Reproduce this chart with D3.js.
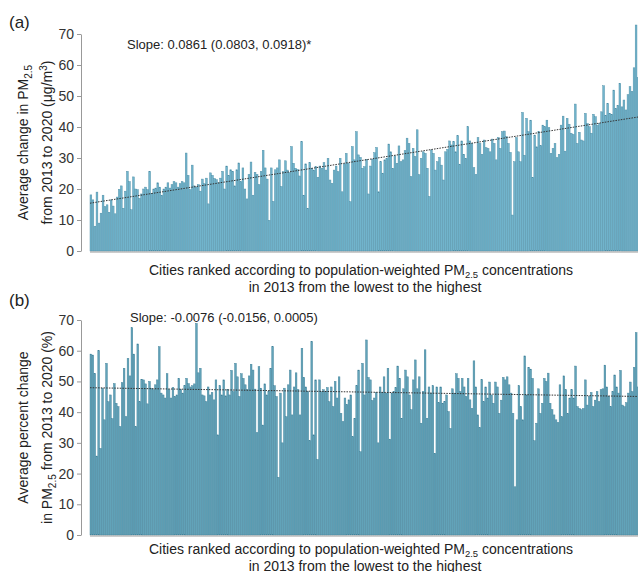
<!DOCTYPE html>
<html>
<head>
<meta charset="utf-8">
<script src="https://cdn.jsdelivr.net/npm/d3@7"></script>
<style>
  body { margin: 0; background: #fff; }
  svg { display: block; font-family: "Liberation Sans", Arial, sans-serif; }
</style>
</head>
<body>
<svg id="chart" width="638" height="572"></svg>
<script>
// cities ranked by 2013 population-weighted PM2.5 (lowest -> highest)
const absChange = [
  18.1, 16.5, 8, 19, 9, 12.2, 18, 14.3, 14.9, 12.5,
  16.5, 14.5, 12, 17.4, 19.9, 21, 13.8, 19.3, 25.7, 22.4,
  13.3, 23.9, 20, 19.8, 17, 18.4, 20, 20.6, 19.8, 25.7,
  18.6, 20, 20.3, 22, 20.6, 18, 20, 20.6, 22, 20.3,
  21.4, 22.4, 22, 20.6, 21.7, 22.4, 22, 31.6, 24.4, 19.8,
  27.7, 21, 20.6, 21.4, 19.3, 23.2, 21.7, 23.5, 15.2, 25.2,
  24.4, 23.4, 23, 22, 23.5, 25.7, 20, 27.4, 24.4, 26.2,
  25.7, 21, 26.2, 28.4, 22.4, 26.8, 20, 16.8, 24.7, 28.7,
  18, 25.4, 24.7, 21.4, 25.7, 32.5, 26.8, 23.2, 9.9, 26.8,
  16, 26.2, 26.8,
  29.4, 20.8, 25.6, 29.1, 26.1, 25.3, 33.7, 28.3, 26.7, 26.3,
  24.2, 35.3, 18, 28.1, 13.8, 28.5, 26.7, 26.1, 27.2, 23.8,
  27.4, 26.7, 28.5, 26.1, 29.9, 22.9, 21.8, 26.1, 27.4, 25.6,
  29.9, 19.1, 28.1, 31.5, 28.3, 15.9, 33.7, 29.4, 38.5, 31,
  30.2, 26.7, 27.2, 29.6, 18.4, 27.4, 29.6, 31.7, 33.4, 19.1,
  28.8, 25.1, 29.4, 29.9, 34.5, 32, 26.7, 30.7, 28.3, 33.9,
  28.8, 29.4, 32.4, 36.4, 34.7, 24, 33.1, 30.5, 39.1, 24.6,
  29.9, 32, 31.5, 26.7, 17.6, 32.6, 31.5, 26.1, 28.8, 30.2,
  27.7, 22.9, 32, 32.8,
  35.5, 34.2, 35.3, 32, 37.2, 28, 35.5, 31.2, 29.9, 40.1,
  35.5, 34.7, 26.9, 24.7, 36.6, 34.7, 31.2, 35.8, 33.3, 33.1,
  32, 36.1, 34.7, 29.4, 36.6, 33.1, 38.5, 38.7, 36.9, 34.7,
  31.8, 11.6, 28.8, 36.6, 32, 28.8, 44.7, 30.9, 42.8, 38.5,
  42.2, 23.7, 37.4, 33.6, 38.5, 34, 40.6, 40.1, 42.2, 39.8,
  31.5, 33.1, 34.7, 30.1, 31.2, 40.6, 43.5, 32.2, 42.8, 40.9,
  38, 37.6, 47.4, 34.7, 38.3, 35.8, 35.5, 44.4, 41.1, 40.1,
  38, 44.1, 43.3, 40.6, 41.1, 44.9, 53.3, 43.8, 47.6, 44.4,
  44.1, 51.9, 46, 47, 54.1, 46.5, 48.7, 45.5, 50.4, 53,
  51.5, 59.1, 72.9, 55.9
];

const pctChange = [
  58.9, 58.6, 52.6, 25.7, 60.0, 28.2, 47.8, 37.5, 55.9, 43.4,
  45.6, 37.9, 49.3, 42.9, 41.8, 35.3, 49.6, 54.3, 38.5, 57.5,
  51.8, 67.5, 58.9, 35.3, 62.2, 43.4, 50.7, 50.5, 49.2, 42.7,
  50.0, 47.8, 47.3, 48.9, 50.5, 61.3, 46.2, 45.6, 44.6, 52.5,
  47.3, 44.6, 48.0, 45.1, 45.6, 51.0, 47.3, 46.2, 48.6, 51.0,
  49.3, 48.2, 48.6, 49.2, 68.9, 52.8, 54.3, 45.6, 45.3, 43.4,
  48.2, 45.6, 46.4, 44.0, 50.5, 32.6, 48.6, 45.6, 50.5, 45.3,
  47.3, 45.6, 53.6, 46.7, 55.9, 51.5, 45.1, 52.5, 51.0, 48.9,
  47.3, 51.8, 55.6, 53.7, 47.5, 33.3, 54.8, 47.8, 35.8, 49.2,
  45.6, 46.7, 54.3, 61.3, 48.6, 45.1, 18.8, 46.2, 30.0, 47.8,
  38.5, 48.9, 53.7, 39.1, 48.2, 52.8, 47.3, 39.1, 60.8, 51.3,
  48.2, 46.7, 30.7, 63.0, 32.6, 50.5, 24.6, 50.5, 46.7,
  47.3, 46.7, 48.0, 43.4, 48.2, 41.8, 50.0, 44.6, 51.5, 39.6,
  36.9, 44.6, 42.5, 44.0, 45.6, 32.0, 38.0, 48.6, 53.7, 27.1,
  55.9, 45.6, 63.5, 51.3, 50.5, 43.8, 44.6, 46.4, 30.0, 48.2,
  46.4, 51.5, 46.2, 54.3, 31.2, 46.2, 46.7, 48.0, 55.0, 51.0,
  38.0, 47.6, 53.7, 51.5, 45.6, 40.8, 50.5, 57.0, 47.6, 51.5,
  36.4, 46.7, 60.3, 38.0, 48.2, 46.2, 48.6, 26.6, 48.2, 43.1,
  48.2, 42.9, 43.4, 45.6, 40.2, 34.7, 47.6, 46.2, 52.5, 51.0,
  46.7, 51.0, 48.2, 45.1, 51.0, 44.0, 41.2, 56.7, 48.2, 39.1,
  35.0, 50.6, 43.4, 48.2, 44.6, 49.8, 45.6, 42.9, 49.8, 48.2,
  39.6, 43.9, 51.3, 50.5, 51.5, 48.9, 46.2, 39.6, 15.7, 37.5,
  48.6, 41.8, 37.5, 58.3, 45.6, 54.6, 54.0, 51.0, 30.7, 36.4,
  47.6, 39.6, 42.9, 51.0, 50.0, 52.7, 42.9, 40.8, 39.1, 37.5,
  36.6, 48.9, 38.5, 51.8, 47.3, 39.6, 44.6, 47.3, 44.6, 55.0,
  41.8, 41.2, 40.8, 41.2, 50.5, 42.3, 45.1, 46.4, 41.8, 43.9,
  46.7, 43.4, 47.3, 47.6, 55.3, 48.2, 45.1, 41.8, 46.7, 52.1,
  48.2, 46.2, 53.6, 42.3, 41.8, 43.1, 46.2, 49.8, 46.7, 54.6,
  65.9, 48.2
];

const yTicks = [0, 10, 20, 30, 40, 50, 60, 70];
const slopeTextA = "Slope: 0.0861 (0.0803, 0.0918)*";
const slopeTextB = "Slope: -0.0076 (-0.0156, 0.0005)";

const svg = d3.select('#chart');

// least squares fit against rank
function fit(vals) {
  const n = vals.length;
  const mx = (n - 1) / 2, my = d3.mean(vals);
  let sxy = 0, sxx = 0;
  vals.forEach((v, i) => { sxy += (i - mx) * (v - my); sxx += (i - mx) * (i - mx); });
  const b = sxy / sxx;
  return i => my + b * (i - mx);
}

function xTitle(g, cx, y) {
  const t1 = g.append('text').attr('x', cx).attr('y', y)
    .attr('text-anchor', 'middle').attr('font-size', 14).attr('fill', '#222');
  t1.append('tspan').text('Cities ranked according to population-weighted PM');
  t1.append('tspan').attr('dy', 3).attr('font-size', 9.5).text('2.5');
  t1.append('tspan').attr('dy', -3).text(' concentrations');
  g.append('text').attr('x', cx + 4).attr('y', y + 17)
    .attr('text-anchor', 'middle').attr('font-size', 14).attr('fill', '#222')
    .text('in 2013 from the lowest to the highest');
}

function drawPanel(cfg) {
  const g = svg.append('g');

  const x = d3.scaleBand()
    .domain(d3.range(cfg.data.length))
    .range([90, 639])
    .paddingInner(0.12);
  const y = d3.scaleLinear()
    .domain([0, 70])
    .range([cfg.base, cfg.top]);

  g.selectAll('.bar')
    .data(cfg.data)
    .enter().append('rect')
    .attr('class', 'bar')
    .attr('x', (d, i) => x(i))
    .attr('width', x.bandwidth())
    .attr('y', d => y(d))
    .attr('height', d => y(0) - y(d))
    .attr('fill', cfg.fill)
    .attr('stroke', cfg.stroke)
    .attr('stroke-width', 0.45);

  // baseline under the bars
  g.append('line')
    .attr('x1', 90).attr('x2', 639)
    .attr('y1', y(0) + 1).attr('y2', y(0) + 1)
    .attr('stroke', '#999').attr('stroke-width', 1);

  const yAxis = g.append('g')
    .attr('transform', 'translate(81,0)')
    .call(d3.axisLeft(y).tickValues(yTicks).tickSize(4).tickSizeOuter(0).tickPadding(3));
  yAxis.select('.domain').attr('stroke', '#999');
  yAxis.selectAll('.tick line').attr('stroke', '#999');
  yAxis.selectAll('.tick text')
    .attr('font-size', 14).attr('fill', '#333')
    .attr('font-family', '"Liberation Sans", Arial, sans-serif');

  // trend line
  const f = fit(cfg.data);
  const n = cfg.data.length;
  g.append('line')
    .attr('x1', x(0)).attr('x2', x(n - 1) + x.bandwidth())
    .attr('y1', y(f(0))).attr('y2', y(f(n - 1)))
    .attr('stroke', '#333').attr('stroke-width', 1)
    .attr('stroke-dasharray', '1.5,1.2');

  // panel letter
  g.append('text').attr('x', 9).attr('y', cfg.letterY)
    .attr('font-size', 17).attr('fill', '#222').text(cfg.letter);

  g.append('text').attr('x', cfg.slopeX).attr('y', cfg.slopeY)
    .attr('font-size', 13).attr('fill', '#222').text(cfg.slopeText);

  cfg.yTitle(g, (cfg.base + cfg.top) / 2);
  xTitle(g, 361, cfg.base + cfg.titleGap);
}

drawPanel({
  data: absChange,
  base: 251, top: 34,
  fill: '#71b4cc', stroke: '#4d8ea6',
  letter: '(a)', letterY: 28,
  slopeText: slopeTextA, slopeX: 127, slopeY: 49,
  titleGap: 24,
  yTitle: (g, cy) => {
    const t1 = g.append('text').attr('transform', `translate(28,${cy}) rotate(-90)`)
      .attr('text-anchor', 'middle').attr('font-size', 14).attr('fill', '#222');
    t1.append('tspan').text('Average change in PM');
    t1.append('tspan').attr('dy', 4).attr('font-size', 10).text('2.5');
    const t2 = g.append('text').attr('transform', `translate(52,${cy}) rotate(-90)`)
      .attr('text-anchor', 'middle').attr('font-size', 14).attr('fill', '#222');
    t2.append('tspan').text('from 2013 to 2020 (\u03bcg/m');
    t2.append('tspan').attr('dy', -5).attr('font-size', 10).text('3');
    t2.append('tspan').attr('dy', 5).text(')');
  }
});

drawPanel({
  data: pctChange,
  base: 535, top: 320,
  fill: '#62a3b9', stroke: '#40829a',
  letter: '(b)', letterY: 306,
  slopeText: slopeTextB, slopeX: 130, slopeY: 322,
  titleGap: 19,
  yTitle: (g, cy) => {
    g.append('text').attr('transform', `translate(28,${cy}) rotate(-90)`)
      .attr('text-anchor', 'middle').attr('font-size', 14).attr('fill', '#222')
      .text('Average percent change');
    const t2 = g.append('text').attr('transform', `translate(52,${cy}) rotate(-90)`)
      .attr('text-anchor', 'middle').attr('font-size', 14).attr('fill', '#222');
    t2.append('tspan').text('in PM');
    t2.append('tspan').attr('dy', 4).attr('font-size', 10).text('2.5');
    t2.append('tspan').attr('dy', -4).text(' from 2013 to 2020 (%)');
  }
});
</script>
</body>
</html>
